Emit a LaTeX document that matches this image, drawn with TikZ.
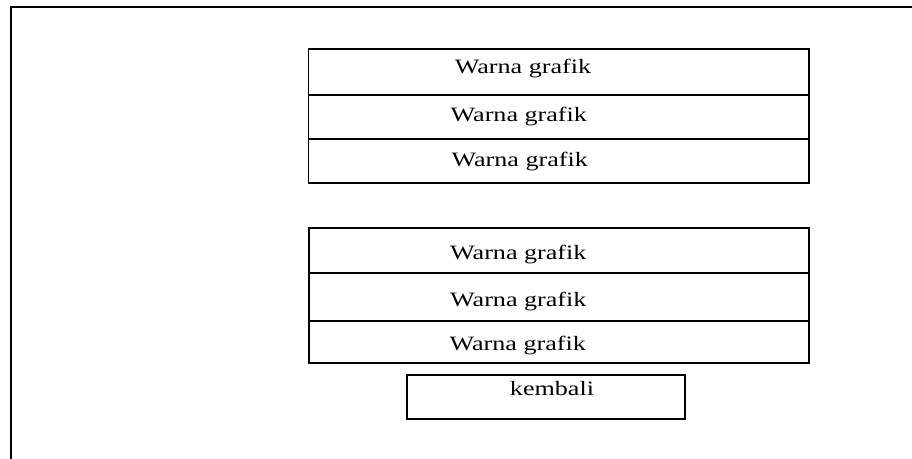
\documentclass[tikz,border=0pt]{standalone}
\usepackage{fontspec}
\setmainfont{Liberation Serif}[FakeStretch=1.28]
\begin{document}
\begin{tikzpicture}[x=0.75pt,y=-0.75pt,
  frame/.style={draw, line width=1.7pt, rectangle, inner sep=0pt, anchor=north west,
    minimum width=700pt, minimum height=360pt},
  cell/.style={draw, line width=1.4pt, rectangle, inner sep=0pt, anchor=north west},
  lbl/.style={anchor=base, inner sep=0pt, font=\fontsize{15.3}{18}\selectfont}]
  \useasboundingbox (0,0) rectangle (912,459);
  \clip (0,0) rectangle (912,459);

  % outer window frame (runs past the right and bottom edges)
  \node[frame] (win) at (9.5,6) {};

  % first group of menu entries
  \node[cell, minimum width=375.4pt, minimum height=34.5pt]  (t1) at (307.5,48.3) {};
  \node[cell, minimum width=375.4pt, minimum height=32.8pt]  (t2) at (307.5,94.3) {};
  \node[cell, minimum width=375.4pt, minimum height=32.8pt]  (t3) at (307.5,138) {};

  % second group of menu entries
  \node[cell, minimum width=375.45pt, minimum height=34.2pt] (b1) at (307.7,226.7) {};
  \node[cell, minimum width=375.45pt, minimum height=36pt]   (b2) at (307.7,272.3) {};
  \node[cell, minimum width=375.45pt, minimum height=31.05pt] (b3) at (307.7,320.3) {};

  % back button
  \node[cell, minimum width=208.5pt, minimum height=32.55pt] (back) at (406,374.3) {};

  % captions
  \node[lbl] (t1t) at (523,74) {Warna grafik};
  \node[lbl] (t2t) at (518.8,122) {Warna grafik};
  \node[lbl] (t3t) at (519.7,166.7) {Warna grafik};
  \node[lbl] (b1t) at (518.3,259.7) {Warna grafik};
  \node[lbl] (b2t) at (518.3,306.3) {Warna grafik};
  \node[lbl] (b3t) at (517.7,350.7) {Warna grafik};
  \node[lbl] (backt) at (552,395.7) {kembali};
\end{tikzpicture}
\end{document}
